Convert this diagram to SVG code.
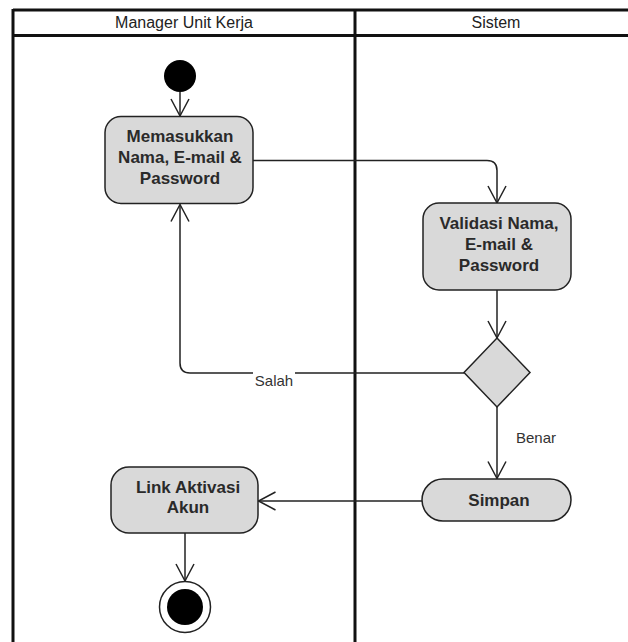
<svg xmlns="http://www.w3.org/2000/svg" width="628" height="642" viewBox="0 0 628 642">
  <style>
    .lane { stroke: #111; stroke-width: 3; fill: none; }
    .head { font-family: "Liberation Sans", Arial, sans-serif; font-size: 16px; fill: #222; text-anchor: middle; }
    .act { fill: #d9d9d9; stroke: #222; stroke-width: 1.5; }
    .lbl { font-family: "Liberation Sans", Arial, sans-serif; font-size: 17px; font-weight: bold; fill: #2a2a2a; text-anchor: middle; }
    .edge { fill: none; stroke: #222; stroke-width: 1.5; }
    .elbl { font-family: "Liberation Sans", Arial, sans-serif; font-size: 15px; fill: #333; text-anchor: middle; }
  </style>
  <defs>
    <marker id="open" markerUnits="userSpaceOnUse" markerWidth="24" markerHeight="24" viewBox="-20 -12 24 24" refX="0" refY="0" orient="auto">
      <path d="M -17 -9 L 0 0 L -17 9" fill="none" stroke="#222" stroke-width="1.5"/>
    </marker>
  </defs>

  <rect width="628" height="642" fill="#ffffff"/>

  <!-- swimlanes -->
  <g id="lanes">
    <line class="lane" x1="13" y1="10" x2="628" y2="10"/>
    <line class="lane" x1="13" y1="35.5" x2="628" y2="35.5"/>
    <line class="lane" x1="13" y1="9" x2="13" y2="642"/>
    <line class="lane" x1="355" y1="9" x2="355" y2="642"/>
    <text class="head" x="184" y="28">Manager Unit Kerja</text>
    <text class="head" x="496" y="28">Sistem</text>
  </g>

  <!-- connectors -->
  <g id="connectors">
    <path class="edge" d="M 180 92 L 180 116" marker-end="url(#open)"/>
    <path class="edge" d="M 253 160.5 L 487 160.5 Q 497 160.5 497 170.5 L 497 203" marker-end="url(#open)"/>
    <path class="edge" d="M 497 290 L 497 338" marker-end="url(#open)"/>
    <path class="edge" d="M 464 373 L 190 373 Q 180 373 180 363 L 180 204.5" marker-end="url(#open)"/>
    <rect x="253" y="367" width="42" height="18" fill="#ffffff"/>
    <text class="elbl" x="274" y="386">Salah</text>
    <path class="edge" d="M 497 407 L 497 478.5" marker-end="url(#open)"/>
    <text class="elbl" x="536" y="443">Benar</text>
    <path class="edge" d="M 422 501 L 258.5 501" marker-end="url(#open)"/>
    <path class="edge" d="M 185 533 L 185 581" marker-end="url(#open)"/>
  </g>

  <!-- start -->
  <g id="start">
    <circle cx="180" cy="76" r="16" fill="#000"/>
  </g>

  <g id="input-data">
    <rect class="act" x="105" y="116.5" width="148" height="87" rx="16" ry="16"/>
    <text class="lbl" x="180" y="142">Memasukkan</text>
    <text class="lbl" x="180" y="163">Nama, E-mail &amp;</text>
    <text class="lbl" x="180" y="184">Password</text>
  </g>

  <g id="validate">
    <rect class="act" x="423" y="203" width="148" height="87" rx="16" ry="16"/>
    <text class="lbl" x="499" y="229">Validasi Nama,</text>
    <text class="lbl" x="499" y="250">E-mail &amp;</text>
    <text class="lbl" x="499" y="271">Password</text>
  </g>

  <g id="decision">
    <polygon class="act" points="497,338 530,372.5 497,407 464,372.5"/>
  </g>

  <g id="save">
    <rect class="act" x="422" y="479" width="149" height="42" rx="21" ry="21"/>
    <text class="lbl" x="499" y="506">Simpan</text>
  </g>

  <g id="activation-link">
    <rect class="act" x="111" y="467" width="147" height="66" rx="18" ry="18"/>
    <text class="lbl" x="188" y="493">Link Aktivasi</text>
    <text class="lbl" x="188" y="513">Akun</text>
  </g>

  <!-- end -->
  <g id="end">
    <circle cx="185" cy="607" r="25.5" fill="#fff" stroke="#222" stroke-width="1.5"/>
    <circle cx="185" cy="607" r="18" fill="#000"/>
  </g>
</svg>
